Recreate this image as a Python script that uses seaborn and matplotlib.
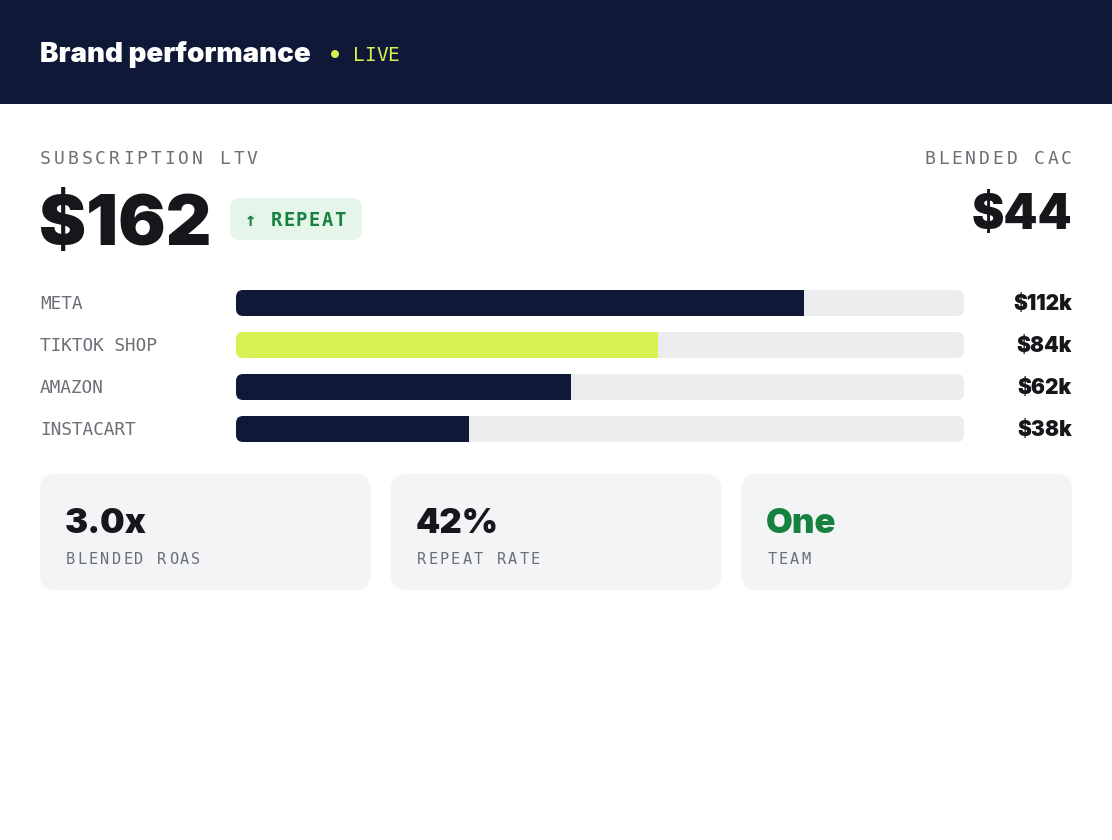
import matplotlib
matplotlib.use("Agg")
import matplotlib.pyplot as plt
from matplotlib.patches import FancyBboxPatch, Rectangle, Circle
import seaborn as sns

# ── Data ──────────────────────────────────────────────────────────────────────
channels = ["META", "TIKTOK SHOP", "AMAZON", "INSTACART"]
revenue_k = [112, 84, 62, 38]
share_pct = [78, 58, 46, 32]
highlight = "TIKTOK SHOP"

ltv = 162
cac = 44
card_values = ["3.0x", "42%", "One"]
card_labels = ["BLENDED ROAS", "REPEAT RATE", "TEAM"]

# ── Style ─────────────────────────────────────────────────────────────────────
W, H = 1112, 840
NAVY = "#0F1836"
LIME = "#D9F152"
GRAY = "#6B6F76"
TRACK = "#EBECEE"
CARD = "#F3F4F6"
INK = "#16171B"
GREEN = "#17813F"
BADGE = "#E5F5EA"
SANS = ["Inter", "DejaVu Sans"]
MONO = ["DejaVu Sans Mono"]
HEAVY = 900

sns.set_style("white")
plt.rcParams["font.family"] = SANS

fig = plt.figure(figsize=(W / 100, H / 100), dpi=100)
fig.patch.set_facecolor("white")

# background canvas in pixel coordinates
bg = fig.add_axes([0, 0, 1, 1], zorder=0)
bg.set_xlim(0, W)
bg.set_ylim(H, 0)
bg.axis("off")


def spaced(x, y, s, step, size, color, align="left", weight="normal"):
    adv = 0.602 * size * 100 / 72
    if align == "right":
        x = x - step * (len(s) - 1) - adv
    for i, ch in enumerate(s):
        bg.text(x + step * i + adv / 2, y, ch, ha="center", va="baseline",
                fontsize=size, color=color, family=MONO, fontweight=weight)


# ── Header ────────────────────────────────────────────────────────────────────
bg.add_patch(Rectangle((0, 0), W, 104, color=NAVY, lw=0))
bg.text(40, 62, "Brand performance", fontsize=20, fontweight=HEAVY,
        color="white", va="baseline", ha="left")
bg.add_patch(Circle((335, 54), 4, color=LIME, lw=0))
spaced(353, 61, "LIVE", 11.5, 14, LIME)

# ── KPIs ──────────────────────────────────────────────────────────────────────
spaced(40, 164, "SUBSCRIPTION LTV", 13.8, 13, GRAY)
bg.text(39, 245, f"${ltv}", fontsize=51, fontweight=HEAVY, color=INK,
        va="baseline", ha="left")
bg.add_patch(FancyBboxPatch((230, 198), 132, 42, boxstyle="round,pad=0,rounding_size=10",
                            color=BADGE, lw=0))
spaced(245, 226, "↑ REPEAT", 12.7, 13.5, GREEN, weight="bold")

spaced(1072, 164, "BLENDED CAC", 13.7, 13, GRAY, align="right")
bg.text(1072, 229, f"${cac}", fontsize=35, fontweight=HEAVY, color=INK,
        va="baseline", ha="right")

# ── Channel bars ──────────────────────────────────────────────────────────────
ax = fig.add_axes([236 / W, 1 - 450 / H, 728 / W, 168 / H], zorder=1)
ax.patch.set_alpha(0)
track = [100] * len(channels)
sns.barplot(x=track, y=channels, orient="h", color=TRACK, width=0.62,
            saturation=1, linewidth=0, ax=ax)
sns.barplot(x=share_pct, y=channels, orient="h", hue=channels,
            palette=[LIME if c == highlight else NAVY for c in channels],
            width=0.62, saturation=1, linewidth=0, legend=False, ax=ax)
ax.set_xlim(0, 100)
ax.set_ylim(len(channels) - 0.5, -0.5)
ax.axis("off")

# rounded track: both the track and its fill are clipped to it
n = len(channels)
for i in range(n):
    tp = ax.patches[i]
    clip = FancyBboxPatch((tp.get_x(), tp.get_y()), tp.get_width(), tp.get_height(),
                          boxstyle="round,pad=0,rounding_size=1.0",
                          mutation_aspect=7.28 / 42, transform=ax.transData)
    tp.set_clip_path(clip)
    ax.patches[n + i].set_clip_path(clip)

for i, (name, val) in enumerate(zip(channels, revenue_k)):
    yc = 303 + 42 * i
    bg.text(40, yc + 6, name, fontsize=12.8, color=GRAY, family=MONO,
            ha="left", va="baseline")
    bg.text(1072, yc + 7, f"${val}k", fontsize=15, fontweight=HEAVY, color=INK,
            ha="right", va="baseline")

# ── Cards ─────────────────────────────────────────────────────────────────────
cw = (1032 - 40) / 3
for j, (v, lab) in enumerate(zip(card_values, card_labels)):
    x0 = 40 + j * (cw + 20)
    bg.add_patch(FancyBboxPatch((x0, 474), cw, 116, boxstyle="round,pad=0,rounding_size=16",
                                color=CARD, lw=0))
    bg.text(x0 + 25, 533, v, fontsize=25, fontweight=HEAVY,
            color=GREEN if j == 2 else INK, va="baseline", ha="left")
    spaced(x0 + 26, 564, lab, 11.4, 11, GRAY)

fig.savefig("out.png", dpi=100, facecolor="white")
